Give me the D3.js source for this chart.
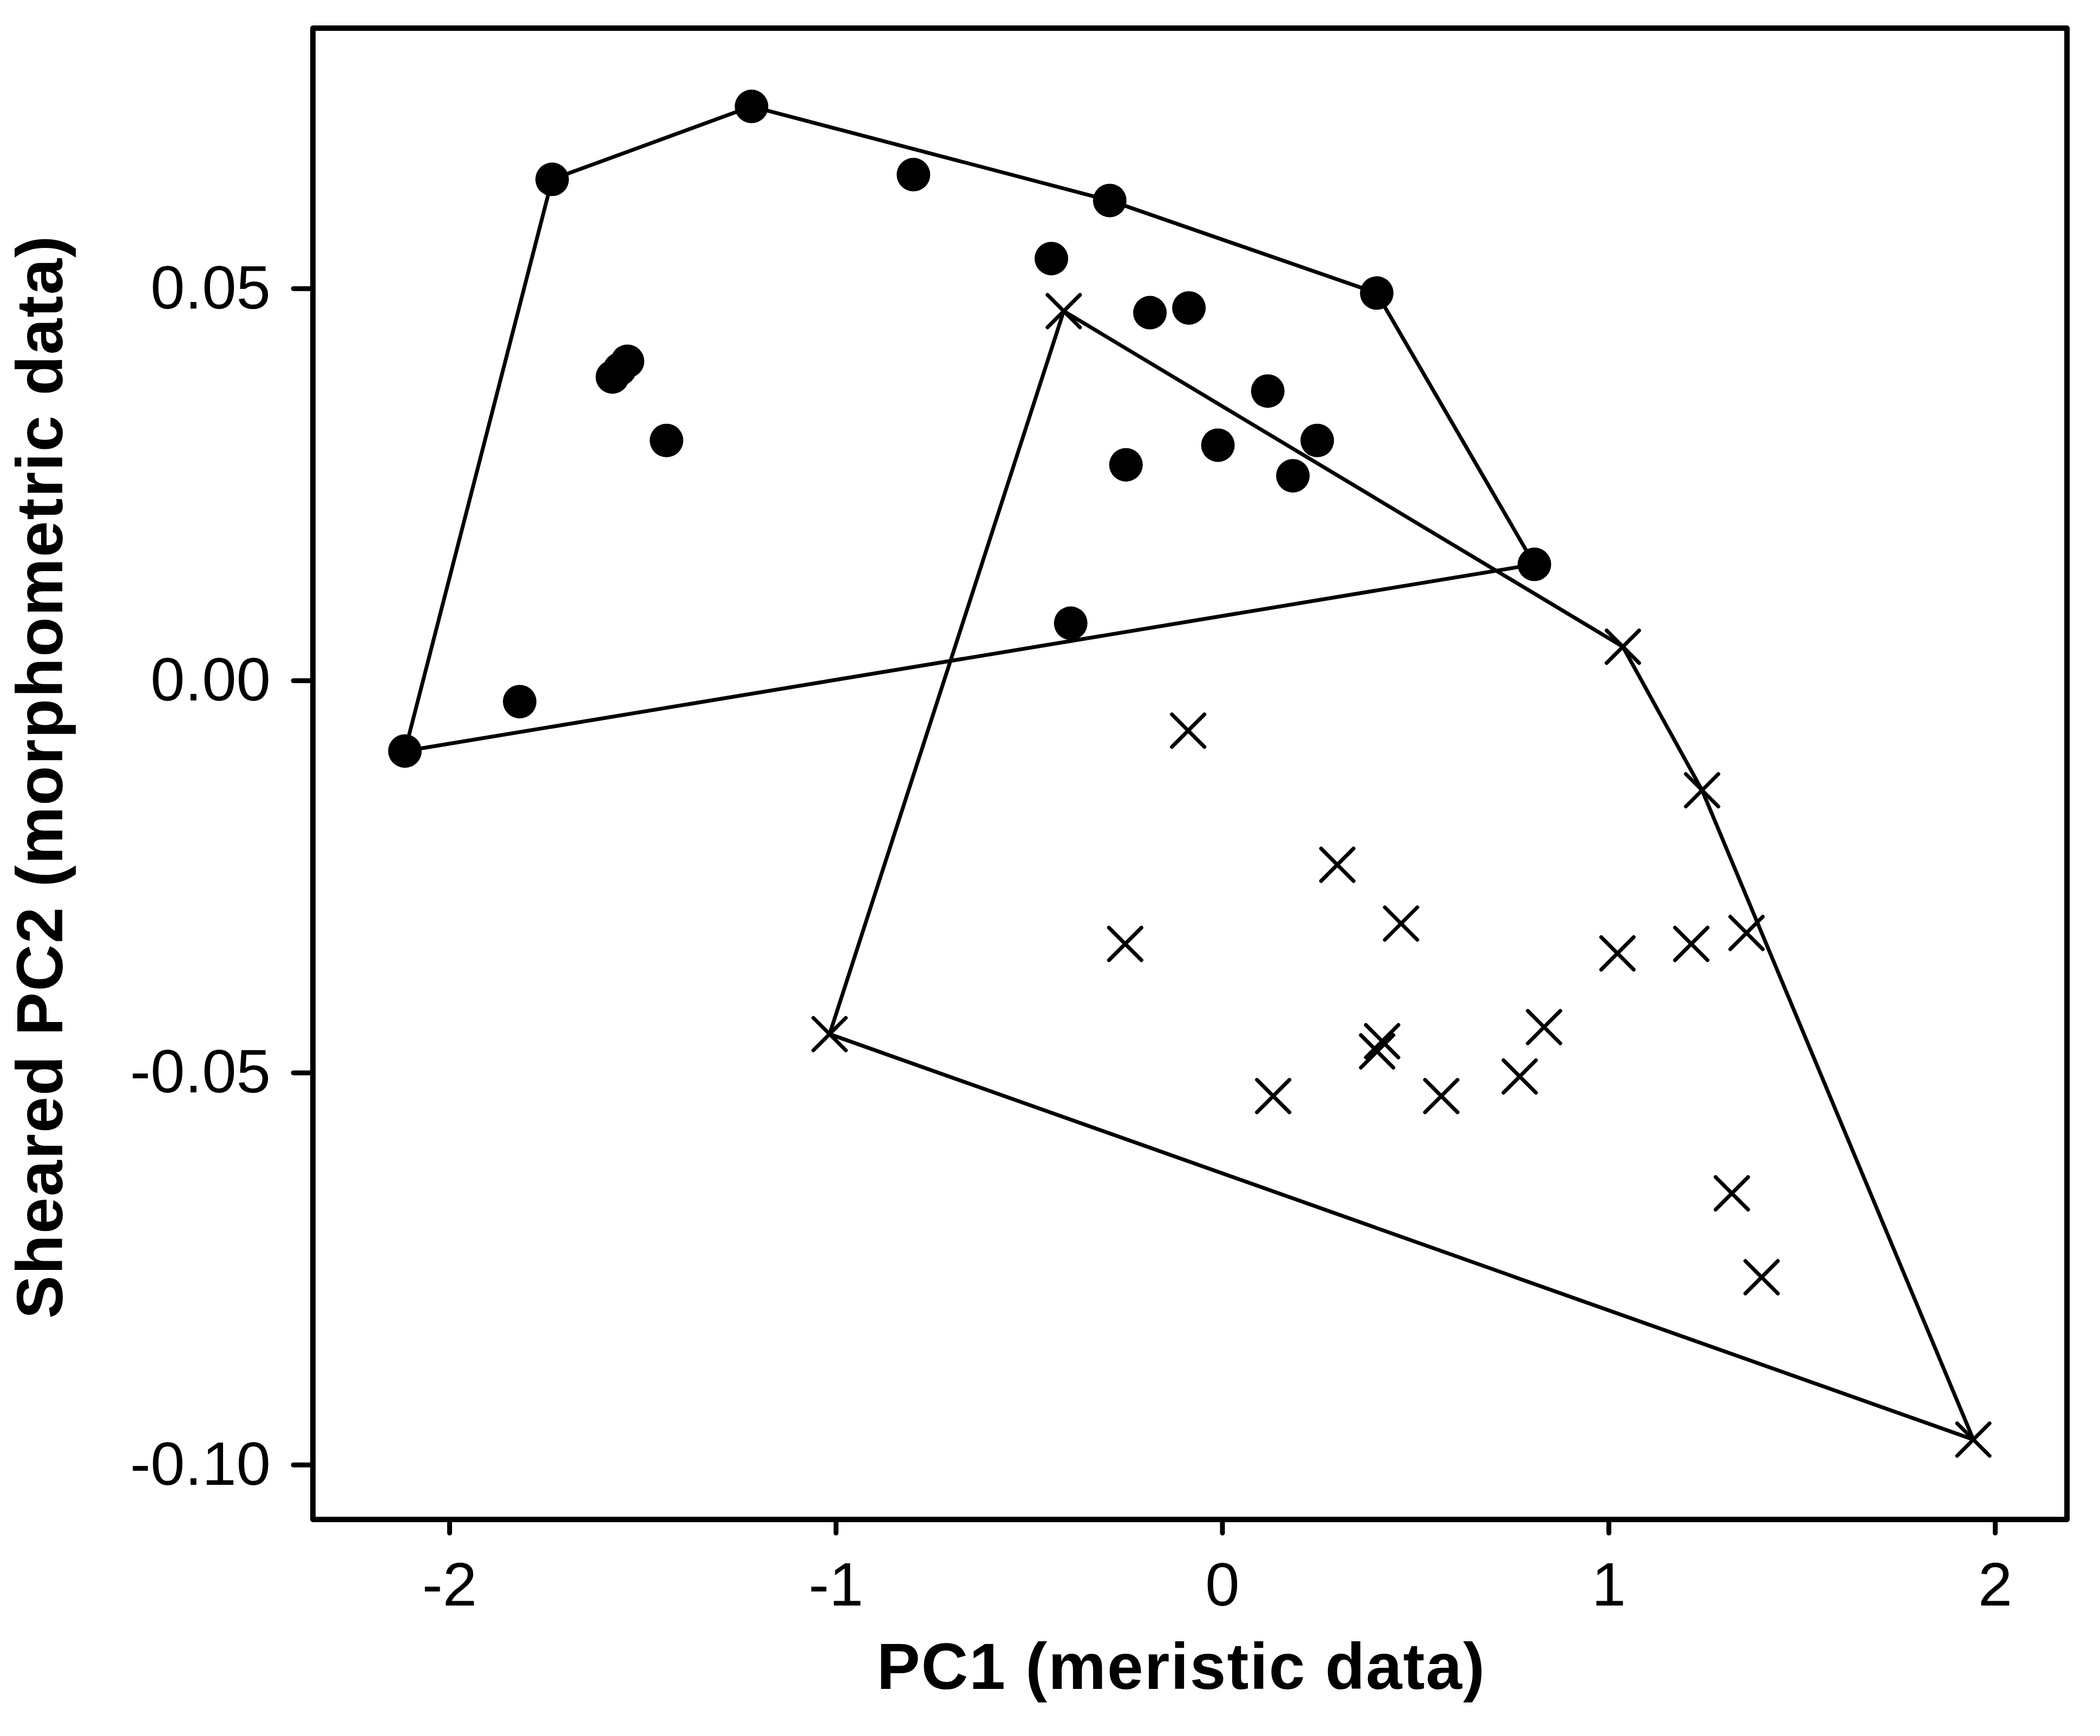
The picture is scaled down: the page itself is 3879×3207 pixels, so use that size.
<!DOCTYPE html>
<html><head><meta charset="utf-8">
<script src="https://cdn.jsdelivr.net/npm/d3@7"></script>
<style>html,body{margin:0;padding:0;background:#fff;} svg{display:block;}</style>
</head><body>
<svg id="chart" width="3879" height="3207"></svg>
<script>
// Group 1 (filled circles)
const dotPC1 = [-2.115, -1.818, -1.734, -1.218, -0.799, -0.291, -0.442, -0.187, -0.086, 0.400,
                -1.578, -1.559, -1.539, -1.438, 0.118, -0.011, 0.246, 0.183, -0.249, 0.808, -0.392];
const dotPC2 = [-0.0090, -0.0027, 0.0639, 0.0732, 0.0645, 0.0612, 0.0538, 0.0469, 0.0475, 0.0494,
                0.0387, 0.0397, 0.0407, 0.0306, 0.0369, 0.0300, 0.0306, 0.0261, 0.0275, 0.0148, 0.0073];
// Group 2 (crosses)
const crossPC1 = [-0.410, 1.037, -0.088, 1.242, 0.298, -0.251, 0.463, 1.023, 1.214, 1.357,
                  0.414, 0.401, 0.833, -1.016, 0.132, 0.567, 0.770, 1.319, 1.396, 1.944];
const crossPC2 = [0.0471, 0.0043, -0.0064, -0.0140, -0.0235, -0.0336, -0.0310, -0.0348, -0.0336, -0.0322,
                  -0.0460, -0.0473, -0.0442, -0.0451, -0.0530, -0.0530, -0.0505, -0.0654, -0.0761, -0.0968];

const xTickValues = [-2, -1, 0, 1, 2];
const xTickLabels = ["-2", "-1", "0", "1", "2"];
const yTickValues = [-0.10, -0.05, 0.00, 0.05];
const yTickLabels = ["-0.10", "-0.05", "0.00", "0.05"];
const xTitle = "PC1 (meristic data)";
const yTitle = "Sheared PC2 (morphometric data)";

(function () {
const svg = d3.select("#chart");
svg.append("rect").attr("width", 3879).attr("height", 3207).attr("fill", "#fff");

const pLeft = 578, pRight = 3818, pTop = 52, pBottom = 2807;
const x = d3.scaleLinear().domain([-2.3531, 2.1863]).range([pLeft, pRight]);
const y = d3.scaleLinear().domain([-0.10699, 0.08318]).range([pBottom, pTop]);

const font = "'Liberation Sans', Arial, 'DejaVu Sans', sans-serif";

// Axes
const xAxis = d3.axisBottom(x).tickValues(xTickValues)
  .tickFormat((d, i) => xTickLabels[i]).tickSize(25).tickPadding(53).tickSizeOuter(0);
const yAxis = d3.axisLeft(y).tickValues(yTickValues)
  .tickFormat((d, i) => yTickLabels[i]).tickSize(36).tickPadding(42).tickSizeOuter(0);

const gx = svg.append("g").attr("transform", `translate(0,${pBottom})`).call(xAxis);
const gy = svg.append("g").attr("transform", `translate(${pLeft},0)`).call(yAxis);
[gx, gy].forEach(g => {
  g.select(".domain").remove();
  g.selectAll(".tick line").attr("stroke", "#000").attr("stroke-width", 9).attr("stroke-linecap", "round");
  g.selectAll(".tick text").attr("fill", "#000").style("font-family", font).style("font-size", "114px");
});

// Frame
svg.append("rect")
  .attr("x", pLeft).attr("y", pTop)
  .attr("width", pRight - pLeft).attr("height", pBottom - pTop)
  .attr("fill", "none").attr("stroke", "#000").attr("stroke-width", 10)
  .attr("stroke-linejoin", "round");

// Data
const dots = dotPC1.map((v, i) => [v, dotPC2[i]]);
const crosses = crossPC1.map((v, i) => [v, crossPC2[i]]);

const line = d3.line().curve(d3.curveLinearClosed);
const hullDots = d3.polygonHull(dots.map(d => [x(d[0]), y(d[1])]));
const hullCrosses = d3.polygonHull(crosses.map(d => [x(d[0]), y(d[1])]));

svg.append("path").attr("d", line(hullDots))
  .attr("fill", "none").attr("stroke", "#000").attr("stroke-width", 7).attr("stroke-linejoin", "round");
svg.append("path").attr("d", line(hullCrosses))
  .attr("fill", "none").attr("stroke", "#000").attr("stroke-width", 7).attr("stroke-linejoin", "round");

svg.append("g").selectAll("circle").data(dots).join("circle")
  .attr("cx", d => x(d[0])).attr("cy", d => y(d[1])).attr("r", 31).attr("fill", "#000");

const cs = 30;
svg.append("g").selectAll("path").data(crosses).join("path")
  .attr("d", d => {
    const cx = x(d[0]), cy = y(d[1]);
    return `M${cx - cs},${cy - cs}L${cx + cs},${cy + cs}M${cx - cs},${cy + cs}L${cx + cs},${cy - cs}`;
  })
  .attr("fill", "none").attr("stroke", "#000").attr("stroke-width", 7).attr("stroke-linecap", "round");

// Titles
svg.append("text").attr("x", 2182).attr("y", 3120)
  .attr("text-anchor", "middle")
  .style("font-family", font).style("font-size", "120px").style("font-weight", "bold")
  .style("letter-spacing", "2px")
  .text(xTitle);

svg.append("text")
  .attr("transform", `translate(115,1435) rotate(-90)`)
  .attr("text-anchor", "middle")
  .style("font-family", font).style("font-size", "120px").style("font-weight", "bold")
  .style("letter-spacing", "2px")
  .text(yTitle);
})();
</script>
</body></html>
